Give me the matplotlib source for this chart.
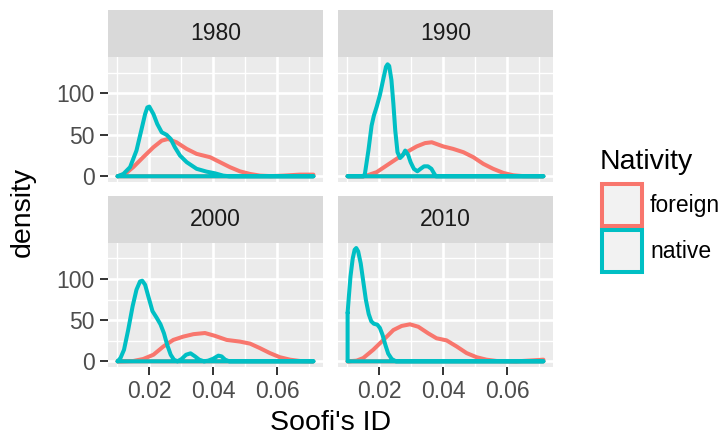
import matplotlib
matplotlib.use("Agg")
import matplotlib.pyplot as plt
from matplotlib.patches import Rectangle

plt.rcParams['font.family'] = ['Liberation Sans', 'DejaVu Sans']

years = ["1980", "1990", "2000", "2010"]
groups = ["foreign", "native"]
colors = {"foreign": "#F8766D", "native": "#00BFC4"}

# density curves (x = Soofi's ID, y = density)
x_1980_foreign = [0.0101, 0.0125, 0.015, 0.0181, 0.0213, 0.0239, 0.0259, 0.0285, 0.0317, 0.0348,
                  0.039, 0.0421, 0.0452, 0.0483, 0.0515, 0.0546, 0.058, 0.062, 0.067, 0.0713]
y_1980_foreign = [0, 3, 11, 23, 35, 43, 45, 41, 33, 27, 23, 17, 11, 6, 2.8, 0.8, 0.2, 0.8, 2, 2]
x_1980_native = [0.0101, 0.0119, 0.0140, 0.0160, 0.0176, 0.0187, 0.0194, 0.0200, 0.0213, 0.0225,
                 0.0239, 0.0254, 0.0267, 0.0280, 0.0296, 0.0317, 0.0348, 0.0379, 0.0405, 0.0431,
                 0.045, 0.0713]
y_1980_native = [0, 2.8, 11, 31, 57, 75, 83, 84, 75, 63, 53, 50, 45, 35, 25, 17, 9, 5.6, 3.6, 0.8,
                 0, 0]

x_1990_foreign = [0.0101, 0.015, 0.016, 0.0192, 0.0223, 0.0254, 0.0285, 0.0317, 0.0343, 0.0364,
                  0.0400, 0.0431, 0.0463, 0.0494, 0.0525, 0.0556, 0.0588, 0.0619, 0.065, 0.0713]
y_1990_foreign = [0, 0, 0.8, 5, 13, 21, 29, 36, 40, 41, 36, 33, 29, 23, 15, 9, 4, 1.2, 0.2, 0]
x_1990_native = [0.0101, 0.0150, 0.0155, 0.0166, 0.0176, 0.0183, 0.0192, 0.0202, 0.0213, 0.0221,
                 0.0226, 0.0231, 0.0238, 0.0244, 0.0250, 0.0257, 0.0265, 0.0273, 0.0281, 0.0290,
                 0.0298, 0.0308, 0.0319, 0.0329, 0.0340, 0.0352, 0.0363, 0.0371, 0.0377, 0.0713]
y_1990_native = [0, 0, 2.8, 31, 61, 73, 84, 98, 118, 132, 135, 133, 116, 88, 55, 29, 22, 25, 31, 26,
                 17, 9, 6, 9, 12, 12, 9, 3.6, 0, 0]

x_2000_foreign = [0.0101, 0.015, 0.0181, 0.0213, 0.0244, 0.0275, 0.0306, 0.0338, 0.0374, 0.0405,
                  0.0442, 0.0483, 0.0515, 0.0546, 0.0577, 0.0608, 0.064, 0.0671, 0.0713]
y_2000_foreign = [0, 0.4, 2.8, 8, 18, 26, 30, 33, 34.4, 31, 26, 24, 21.5, 16, 10, 5, 2, 0.4, 0]
x_2000_native = [0.0101, 0.0110, 0.0121, 0.0134, 0.0148, 0.0160, 0.0171, 0.0178, 0.0187, 0.0197,
                 0.0210, 0.0223, 0.0235, 0.0246, 0.0256, 0.0267, 0.0277, 0.0288, 0.0301, 0.0315,
                 0.0329, 0.0343, 0.0356, 0.0371, 0.0384, 0.0400, 0.0416, 0.0426, 0.0437, 0.0450,
                 0.0713]
y_2000_native = [0, 4, 14, 38, 67, 87, 97, 98, 93, 79, 61, 53, 45, 34, 20, 8, 2, 0, 2.8, 8, 9.7, 6, 2,
                 0, 0.8, 3.2, 6.9, 6, 2, 0, 0]

x_2010_foreign = [0.0101, 0.0129, 0.015, 0.0181, 0.0213, 0.0244, 0.027, 0.0296, 0.0322, 0.0353,
                  0.0379, 0.041, 0.0442, 0.0473, 0.0504, 0.0535, 0.0567, 0.0629, 0.0681, 0.0713]
y_2010_foreign = [0, 0.8, 4, 14, 26, 38, 43, 45, 42, 34, 28, 25.5, 18, 10, 5, 2, 0.4, 0, 1.2, 2]
x_2010_native = [0.0101, 0.0105, 0.0110, 0.0117, 0.0123, 0.0128, 0.0134, 0.0142, 0.0150, 0.0158,
                 0.0167, 0.0175, 0.0183, 0.0194, 0.0202, 0.0210, 0.0219, 0.0228, 0.0239, 0.0252,
                 0.0713]
y_2010_native = [59, 79, 103, 125, 135.6, 137.7, 133.6, 119, 97, 75, 57.5, 48.6, 45.7, 44.5, 40.5,
                 32.4, 20, 9.3, 2.8, 0, 0]

curves = {
    "1980": {"foreign": (x_1980_foreign, y_1980_foreign), "native": (x_1980_native, y_1980_native)},
    "1990": {"foreign": (x_1990_foreign, y_1990_foreign), "native": (x_1990_native, y_1990_native)},
    "2000": {"foreign": (x_2000_foreign, y_2000_foreign), "native": (x_2000_native, y_2000_native)},
    "2010": {"foreign": (x_2010_foreign, y_2010_foreign), "native": (x_2010_native, y_2010_native)},
}

xticks = [0.02, 0.04, 0.06]
xtick_labels = ["0.02", "0.04", "0.06"]
yticks = [0, 50, 100]
ytick_labels = ["0", "50", "100"]

W, H = 725, 436
fig = plt.figure(figsize=(W / 100, H / 100), dpi=100)


def box(x0, y0, x1, y1):
    # pixel box (top-left origin) -> figure fraction rect
    return [x0 / W, 1 - y1 / H, (x1 - x0) / W, (y1 - y0) / H]


panel_x = [(108, 323), (338, 553)]
panel_y = [(57, 182), (243, 367)]
strip_y = [(10, 57), (196, 243)]

for i, year in enumerate(years):
    r, c = divmod(i, 2)
    ax = fig.add_axes(box(panel_x[c][0], panel_y[r][0], panel_x[c][1], panel_y[r][1]))
    ax.set_facecolor("#EBEBEB")
    for s in ax.spines.values():
        s.set_visible(False)
    ax.set_xlim(0.0071, 0.0743)
    ax.set_ylim(-6.9, 143.8)
    ax.set_xticks(xticks)
    ax.set_xticklabels(xtick_labels)
    ax.set_xticks([0.01, 0.03, 0.05, 0.07], minor=True)
    ax.set_yticks(yticks)
    ax.set_yticklabels(ytick_labels)
    ax.set_yticks([25, 75, 125], minor=True)
    ax.set_axisbelow(True)
    ax.grid(which="major", color="white", lw=1.9)
    ax.grid(which="minor", color="white", lw=1.0)
    ax.tick_params(which="minor", length=0)
    ax.tick_params(which="major", length=5.5, width=1.4, color="#333333",
                   labelsize=16.5, labelcolor="#4D4D4D", pad=4)
    if r == 0:
        ax.tick_params(axis="x", which="major", length=0, labelbottom=False)
    if c == 1:
        ax.tick_params(axis="y", which="major", length=0, labelleft=False)

    for g in groups:
        xs, ys = curves[year][g]
        px = list(xs) + [xs[-1], xs[0], xs[0]]
        py = list(ys) + [0, 0, ys[0]]
        ax.plot(px, py, color=colors[g], lw=2.9, solid_joinstyle="round", solid_capstyle="round")

    sax = fig.add_axes(box(panel_x[c][0], strip_y[r][0], panel_x[c][1], strip_y[r][1]))
    sax.set_facecolor("#D9D9D9")
    sax.set_xticks([])
    sax.set_yticks([])
    for s in sax.spines.values():
        s.set_visible(False)
    sax.text(0.5, 0.5, year, ha="center", va="center", fontsize=16.5, color="#1A1A1A",
             transform=sax.transAxes)

fig.text(23 / W, 1 - 212 / H, "density", rotation=90, ha="center", va="center", fontsize=20.5)
fig.text(330.5 / W, 1 - 430 / H, "Soofi's ID", ha="center", va="baseline", fontsize=20.5)

# legend drawn by hand
fig.text(600 / W, 1 - 169 / H, "Nativity", ha="left", va="baseline", fontsize=20.5)
key_y = [(184, 226), (230, 272)]
for g, (k0, k1) in zip(groups, key_y):
    fig.add_artist(Rectangle((602 / W, 1 - k1 / H), 40 / W, (k1 - k0) / H,
                             transform=fig.transFigure, facecolor="#F2F2F2",
                             edgecolor=colors[g], lw=2.9))
    fig.text(650 / W, 1 - (k0 + k1) / 2 / H, g, ha="left", va="center", fontsize=16.5)

fig.savefig("out.png", dpi=100)
